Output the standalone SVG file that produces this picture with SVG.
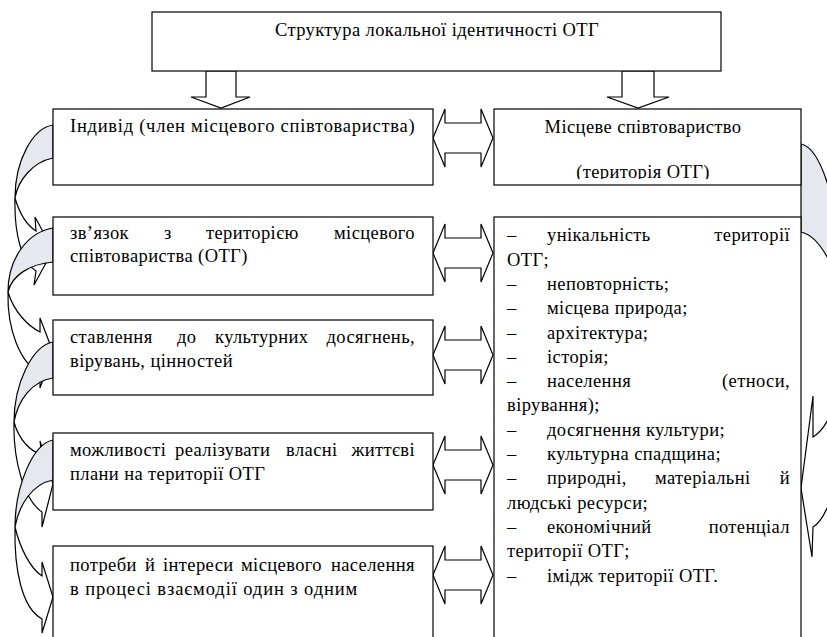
<svg xmlns="http://www.w3.org/2000/svg" width="827" height="637" viewBox="0 0 827 637">
<defs>
<style>
.box{fill:#fff;stroke:#000;stroke-width:1.2}
.blk{fill:#fff;stroke:#000;stroke-width:1.2;stroke-linejoin:miter}
.back{fill:#e6e7ef;stroke:#000;stroke-width:1.2;stroke-linejoin:round}
.front{fill:#fff;stroke:#000;stroke-width:1.2;stroke-linejoin:miter}
text{font-family:"Liberation Serif","Times New Roman",serif;font-size:18.5px;fill:#000;letter-spacing:0.4px}
</style>
<clipPath id="clipM"><rect x="494" y="109" width="307" height="70"/></clipPath>
</defs>
<rect width="827" height="637" fill="#fff"/>

<g id="connectors">
  <!-- curved arrows on the left -->
  <path class="front" d="M15,198 C20,215 28,226 36,231 L35,217 L53,250 L34,285 L36,271 C22,262 14,235 15,198 Z"/>
  <path class="back" d="M53,125 C33,128 15,160 15,198 C18,180 33,162 53,158 Z"/>
  <path class="front" d="M8,292 C14,312 28,326 40,332 L40,318 L53,352 L40,388 L40,374 C20,362 7,330 8,292 Z"/>
  <path class="back" d="M53,228 C28,232 8,258 8,292 C12,275 30,264 53,262 Z"/>
  <path class="front" d="M14,422 C19,440 30,451 42,455 L40,441 L53,484 L42,527 L42,512 C24,500 13,460 14,422 Z"/>
  <path class="back" d="M53,342 C32,346 14,384 14,422 C18,400 32,381 53,378 Z"/>
  <path class="front" d="M15,527 C20,548 30,568 42,576 L42,562 L53,597 L42,633 L42,619 C22,608 14,570 15,527 Z"/>
  <path class="back" d="M53,440 C32,444 15,488 15,527 C19,505 32,484 53,480 Z"/>
  <!-- curved arrow on the right -->
  <path class="front" d="M848,320 C846,380 833,425 813,437 L813,396 L801,488 L812,557 L813,527 C834,514 851,440 848,320 Z"/>
  <path class="back" d="M801,144 C822,148 842,210 848,320 C842,280 822,236 801,232 Z"/>
  <!-- down block arrows -->
  <polygon class="blk" points="206,71 236,71 236,97 250,97 221,108 191,97 206,97"/>
  <polygon class="blk" points="622,71 654,71 654,97 669,97 638,108 607,97 622,97"/>
  <!-- double block arrows -->
  <polygon class="blk" points="433,138 445,109 445,123 481,123 481,109 493,138 481,167 481,153 445,153 445,167"/>
  <polygon class="blk" points="433,253 445,224 445,238 481,238 481,224 493,253 481,282 481,268 445,268 445,282"/>
  <polygon class="blk" points="433,355 445,326 445,340 481,340 481,326 493,355 481,384 481,370 445,370 445,384"/>
  <polygon class="blk" points="433,465 445,436 445,450 481,450 481,436 493,465 481,494 481,480 445,480 445,494"/>
  <polygon class="blk" points="433,575 445,546 445,560 481,560 481,546 493,575 481,604 481,590 445,590 445,604"/>
</g>

<g id="top">
  <rect class="box" x="152" y="12" width="569" height="59"/>
  <text x="437" y="36" text-anchor="middle">Структура локальної ідентичності ОТГ</text>
</g>

<g id="individ">
  <rect class="box" x="53" y="109" width="380" height="76"/>
  <text x="70" y="132" textLength="345" lengthAdjust="spacing">Індивід (член місцевого співтовариства)</text>
</g>

<g id="zvyazok">
  <rect class="box" x="53" y="217" width="380" height="78"/>
  <text x="70" y="239">зв’язок</text>
  <text x="164" y="239">з</text>
  <text x="206" y="239">територією</text>
  <text x="415" y="239" text-anchor="end">місцевого</text>
  <text x="70" y="262">співтовариства (ОТГ)</text>
</g>

<g id="stavlennya">
  <rect class="box" x="53" y="320" width="380" height="75"/>
  <text x="70" y="343">ставлення</text>
  <text x="177" y="343">до</text>
  <text x="215" y="343">культурних</text>
  <text x="415" y="343" text-anchor="end">досягнень,</text>
  <text x="70" y="367">вірувань, цінностей</text>
</g>

<g id="mozhlyvosti">
  <rect class="box" x="53" y="433" width="380" height="77"/>
  <text x="70" y="456">можливості</text>
  <text x="175" y="456">реалізувати</text>
  <text x="286" y="456">власні</text>
  <text x="415" y="456" text-anchor="end">життєві</text>
  <text x="70" y="480">плани на території ОТГ</text>
</g>

<g id="potreby">
  <rect class="box" x="53" y="546" width="380" height="100"/>
  <text x="70" y="571">потреби</text>
  <text x="145" y="571">й</text>
  <text x="163" y="571">інтереси</text>
  <text x="241" y="571">місцевого</text>
  <text x="415" y="571" text-anchor="end">населення</text>
  <text x="70" y="595" style="letter-spacing:0.9px">в процесі взаємодії один з одним</text>
</g>

<g id="spivtovarystvo">
  <rect class="box" x="494" y="109" width="307" height="76"/>
  <text x="643" y="133" text-anchor="middle">Місцеве співтовариство</text>
  <text x="643" y="178" text-anchor="middle" clip-path="url(#clipM)">(територія ОТГ)</text>
</g>

<g id="ryzy">
  <rect class="box" x="494" y="217" width="307" height="430"/>
  <text x="507" y="241">–</text><text x="547" y="241">унікальність</text><text x="790" y="241" text-anchor="end">території</text>
  <text x="507" y="266">ОТГ;</text>
  <text x="507" y="290">–</text><text x="547" y="290">неповторність;</text>
  <text x="507" y="314">–</text><text x="547" y="314">місцева природа;</text>
  <text x="507" y="339">–</text><text x="547" y="339">архітектура;</text>
  <text x="507" y="363">–</text><text x="547" y="363">історія;</text>
  <text x="507" y="387">–</text><text x="547" y="387">населення</text><text x="790" y="387" text-anchor="end">(етноси,</text>
  <text x="507" y="411">вірування);</text>
  <text x="507" y="436">–</text><text x="547" y="436">досягнення культури;</text>
  <text x="507" y="460">–</text><text x="547" y="460">культурна спадщина;</text>
  <text x="507" y="484">–</text><text x="547" y="484">природні,</text><text x="655" y="484">матеріальні</text><text x="790" y="484" text-anchor="end">й</text>
  <text x="507" y="509">людські ресурси;</text>
  <text x="507" y="533">–</text><text x="547" y="533">економічний</text><text x="790" y="533" text-anchor="end">потенціал</text>
  <text x="507" y="557">території ОТГ;</text>
  <text x="507" y="582">–</text><text x="547" y="582">імідж території ОТГ.</text>
</g>
</svg>
